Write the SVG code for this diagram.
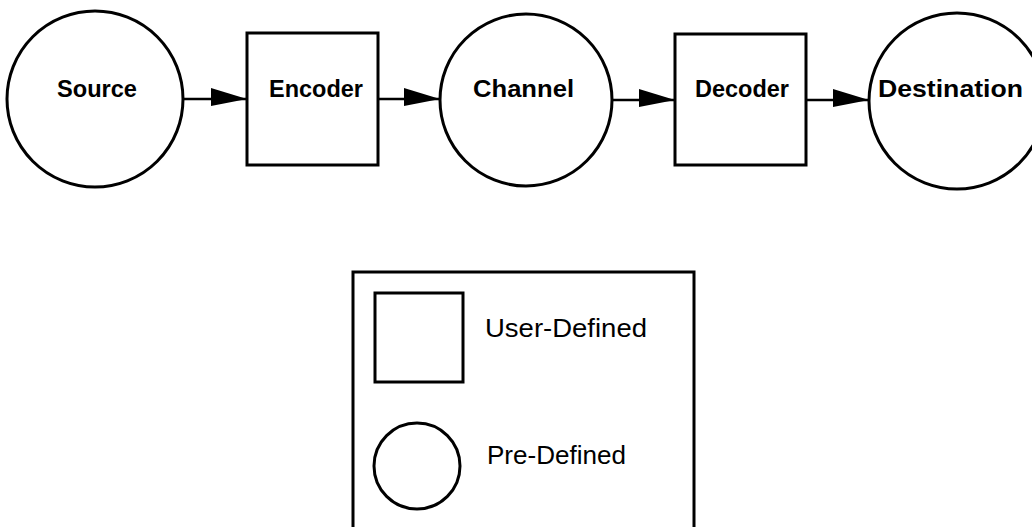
<svg xmlns="http://www.w3.org/2000/svg" width="1032" height="527" viewBox="0 0 1032 527">
  <style>
    .shape { fill: #ffffff; stroke: #000000; stroke-width: 3; }
    .wire { fill: none; stroke: #000000; stroke-width: 2.5; }
    .label { font-family: "Liberation Sans", Arial, sans-serif; font-weight: bold; font-size: 24px; text-anchor: middle; fill: #000000; }
    .key { font-family: "Liberation Sans", Arial, sans-serif; font-size: 25px; fill: #000000; }
  </style>
  <defs>
    <marker id="head" markerUnits="userSpaceOnUse" markerWidth="40" markerHeight="24" refX="36" refY="11" orient="auto">
      <path d="M0,0 L36,11 L0,18 Z" fill="#000000"/>
    </marker>
  </defs>
  <rect width="1032" height="527" fill="#ffffff"/>

  <!-- connectors between the stages -->
  <g id="connectors">
    <line class="wire" x1="184" y1="99" x2="247" y2="99" marker-end="url(#head)"/>
    <line class="wire" x1="378" y1="99" x2="440" y2="99" marker-end="url(#head)"/>
    <line class="wire" x1="612" y1="100" x2="675" y2="100" marker-end="url(#head)"/>
    <line class="wire" x1="806" y1="100" x2="869" y2="100" marker-end="url(#head)"/>
  </g>

  <g id="source">
    <circle class="shape" cx="95" cy="99" r="88"/>
    <text class="label" x="97" y="97" textLength="80" lengthAdjust="spacingAndGlyphs">Source</text>
  </g>

  <g id="encoder">
    <rect class="shape" x="247" y="33" width="131" height="132"/>
    <text class="label" x="316" y="97" textLength="94" lengthAdjust="spacingAndGlyphs">Encoder</text>
  </g>

  <g id="channel">
    <circle class="shape" cx="526" cy="100" r="86"/>
    <text class="label" x="523.5" y="97" textLength="101" lengthAdjust="spacingAndGlyphs">Channel</text>
  </g>

  <g id="decoder">
    <rect class="shape" x="675" y="34" width="131" height="131"/>
    <text class="label" x="742" y="97" textLength="94" lengthAdjust="spacingAndGlyphs">Decoder</text>
  </g>

  <g id="destination">
    <circle class="shape" cx="957" cy="101" r="88"/>
    <text class="label" x="950.5" y="97" textLength="145" lengthAdjust="spacingAndGlyphs">Destination</text>
  </g>

  <!-- legend -->
  <g id="legend">
    <rect class="shape" x="353" y="272" width="341" height="280"/>
    <rect class="shape" x="375" y="293" width="88" height="89"/>
    <text class="key" x="485" y="337" textLength="162" lengthAdjust="spacingAndGlyphs">User-Defined</text>
    <circle class="shape" cx="417" cy="466" r="43"/>
    <text class="key" x="487" y="464" textLength="139" lengthAdjust="spacingAndGlyphs">Pre-Defined</text>
  </g>
</svg>
